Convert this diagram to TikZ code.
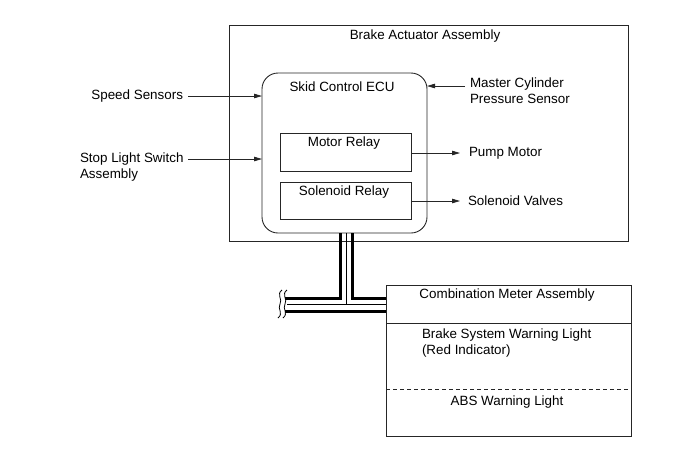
\documentclass[tikz,border=0pt]{standalone}
\usepackage{fontspec}
\setmainfont{Liberation Sans}
\usetikzlibrary{arrows.meta}
\begin{document}
\begin{tikzpicture}[x=1pt,y=-1pt,
  every node/.style={font=\fontsize{13.4}{16}\selectfont, inner sep=0pt, outer sep=0pt},
  box/.style={draw=black!85, line width=0.9pt},
  arr/.style={draw=black!85, line width=0.8pt, -{Triangle[length=8pt,width=4.5pt]}},
  thick wire/.style={line width=3pt, black},
  thin wire/.style={line width=0.6pt, black},
  wave/.style={line width=0.8pt, black}]
\useasboundingbox (0,0) rectangle (691,467);
% boxes
\node[box, minimum width=399pt, minimum height=216pt] (outer) at (428.5,133) {};
\node[box, rounded corners=16pt, minimum width=165pt, minimum height=160pt] (ecu) at (344.5,153) {};
\node[box, minimum width=131pt, minimum height=38pt] (motor) at (345.5,152) {};
\node[box, minimum width=131pt, minimum height=37pt] (sol) at (345.5,200.5) {};
\node[box, minimum width=245pt, minimum height=151pt] (comb) at (508.5,360.5) {};
% texts
\node (tBAA) at (425,36) {Brake Actuator Assembly};
\node (tECU) at (342,87) {Skid Control ECU};
\node (tMR) at (344,143) {Motor Relay};
\node (tSR) at (344,192) {Solenoid Relay};
\node[anchor=west] (pump) at (469,153) {Pump Motor};
\node[anchor=west] (valves) at (468,201) {Solenoid Valves};
\node[anchor=west, align=left] (mcps) at (470,91) {Master Cylinder\\Pressure Sensor};
\node[anchor=east] (speed) at (183,96) {Speed Sensors};
\node[anchor=west, align=left] (stop) at (80,167) {Stop Light Switch\\Assembly};
\node (tCMA) at (507,295) {Combination Meter Assembly};
\node[anchor=west, align=left] (brake) at (422,343.5) {Brake System Warning Light\\(Red Indicator)};
\node (abs) at (507,402) {ABS Warning Light};
% divider lines
\coordinate (d1l) at (386,323); \coordinate (d1r) at (631,323);
\coordinate (d2l) at (386,389); \coordinate (d2r) at (631,389);
\draw[line width=0.9pt, black!85] (d1l) -- (d1r);
\draw[line width=0.8pt, black!85, dash pattern=on 4pt off 3pt] (d2l) -- (d2r);
% arrows
\coordinate (speedS) at (188,96);
\coordinate (stopS) at (188,159);
\coordinate (mcpsS) at (465,86);
\coordinate (pumpE) at (460,153);
\coordinate (valvesE) at (460,201);
\draw[arr] (speedS) -- (speedS -| ecu.west);
\draw[arr] (stopS) -- (stopS -| ecu.west);
\draw[arr] (mcpsS) -- (mcpsS -| ecu.east);
\draw[arr] (motor.east |- pumpE) -- (pumpE);
\draw[arr] (sol.east |- valvesE) -- (valvesE);
% cable
\coordinate (cL) at (285,298);
\draw[thick wire] (340,233) -- (340,298) -- (cL);
\draw[thick wire] (352,233) -- (352,298) -- (386,298);
\draw[thick wire] (285,311) -- (386,311);
\draw[thin wire] (346,233) -- (346,304.5);
\draw[thin wire] (287,304.5) -- (386,304.5);
% break marks
\draw[wave] (282,290) .. controls (276,294) and (283,300) .. (280,304) .. controls (277,309) and (284,313) .. (278,318);
\draw[wave] (287,290) .. controls (281,294) and (288,300) .. (285,304) .. controls (282,309) and (289,313) .. (283,318);
\end{tikzpicture}
\end{document}
